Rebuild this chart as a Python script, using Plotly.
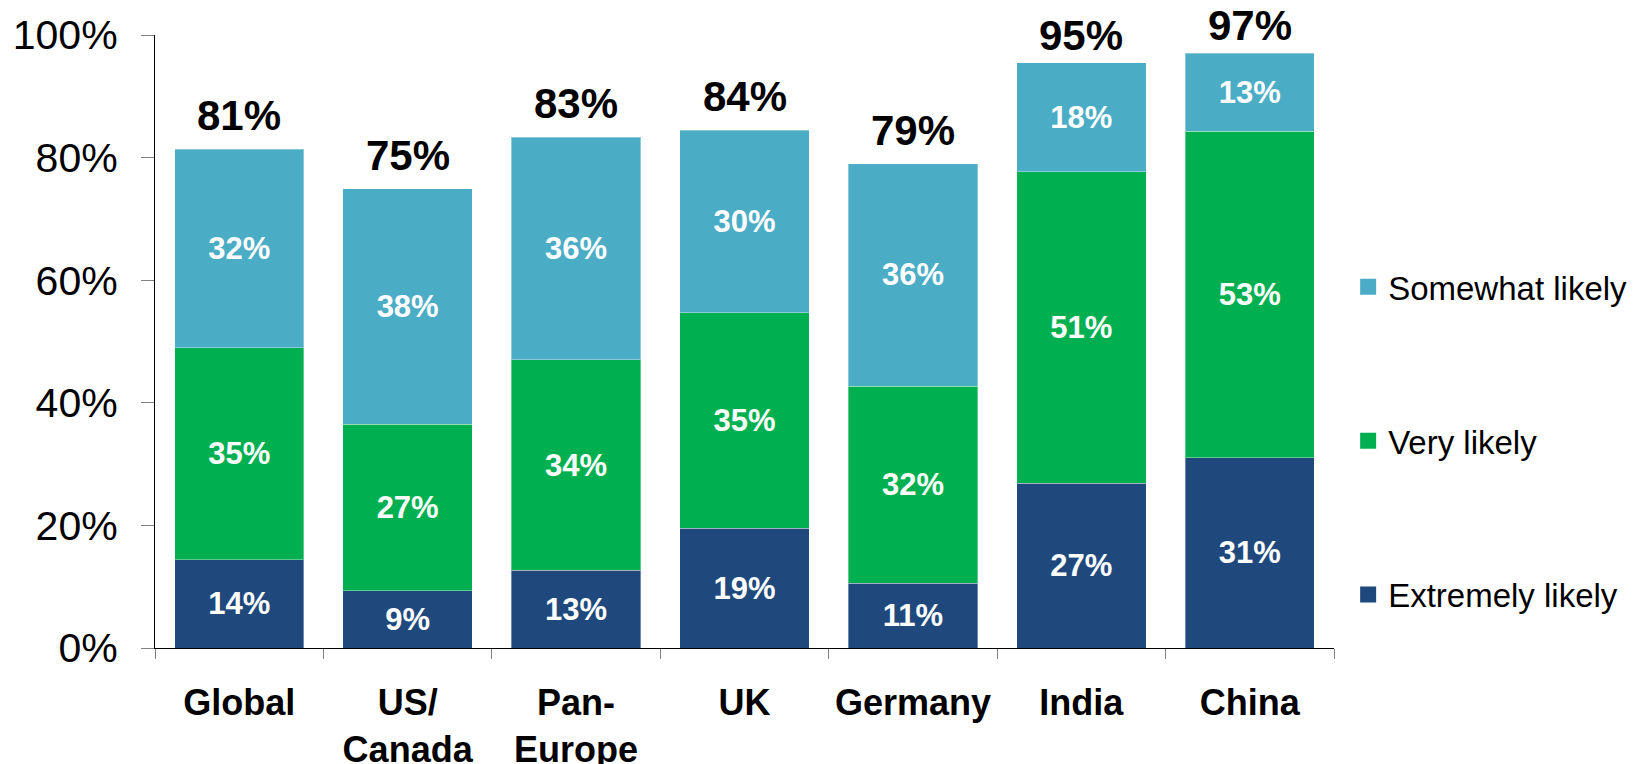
import plotly.graph_objects as go

categories = ["Global", "US/<br>Canada", "Pan-<br>Europe", "UK", "Germany", "India", "China"]
extremely = [14.4, 9.3, 12.7, 19.5, 10.6, 26.9, 31.0]
very = [34.6, 27.2, 34.3, 35.2, 32.1, 50.8, 53.3]
somewhat = [32.4, 38.4, 36.3, 29.8, 36.3, 17.8, 12.7]
extremely_lbl = ["14%", "9%", "13%", "19%", "11%", "27%", "31%"]
very_lbl = ["35%", "27%", "34%", "35%", "32%", "51%", "53%"]
somewhat_lbl = ["32%", "38%", "36%", "30%", "36%", "18%", "13%"]
total_lbl = ["81%", "75%", "83%", "84%", "79%", "95%", "97%"]
y_ticks = [0, 20, 40, 60, 80, 100]
y_tick_lbl = ["0%", "20%", "40%", "60%", "80%", "100%"]

FONT = "Liberation Sans, Arial, sans-serif"
series = [
    ("Extremely likely", extremely, extremely_lbl, "#1F497D", 3),
    ("Very likely", very, very_lbl, "#00B050", 2),
    ("Somewhat likely", somewhat, somewhat_lbl, "#4BACC6", 1),
]

fig = go.Figure()
for name, vals, lbls, col, rank in series:
    fig.add_trace(go.Bar(
        x=categories, y=vals, name=name, text=lbls,
        textposition="inside", insidetextanchor="middle", textangle=0,
        textfont=dict(family=FONT, size=31, color="white", weight="bold"),
        marker=dict(color=col, line=dict(color="rgba(255,255,255,0.35)", width=1)),
        legendgroup=name, showlegend=False, hoverinfo="skip",
    ))
# legend entries with larger square swatches
for name, vals, lbls, col, rank in series:
    fig.add_trace(go.Scatter(
        x=[None], y=[None], mode="markers", name=name,
        marker=dict(symbol="square", size=18, color=col),
        legendgroup=name, legendrank=rank, showlegend=True, hoverinfo="skip",
    ))

totals = [a + b + c for a, b, c in zip(extremely, very, somewhat)]
for cat, tot, lbl in zip(categories, totals, total_lbl):
    # labels near the top of the chart sit a little closer to their bar
    shift = 8 if tot < 90 else 2
    fig.add_annotation(x=cat, y=tot, text=lbl, showarrow=False, yanchor="bottom",
                       yshift=shift, font=dict(family=FONT, size=42, color="black", weight="bold"))

fig.update_layout(
    barmode="stack", bargap=0.232,
    width=1648, height=764,
    margin=dict(l=155, r=314, t=35, b=116, pad=0),
    plot_bgcolor="white", paper_bgcolor="white",
    font=dict(family=FONT, color="black"),
    showlegend=True,
    legend=dict(x=1.012, xanchor="left", y=0.338, yanchor="middle",
                font=dict(family=FONT, size=33, color="black"),
                tracegroupgap=108, traceorder="grouped"),
)
fig.update_xaxes(
    automargin=False,
    showline=True, linecolor="black", linewidth=1.3,
    ticks="outside", tickson="boundaries", ticklen=10, tickcolor="#808080", tickwidth=1.3,
    tickfont=dict(family=FONT, size=36, color="black", weight="bold"),
    ticklabelstandoff=23,
    showgrid=False, zeroline=False, fixedrange=True,
)
fig.update_yaxes(
    automargin=False,
    range=[0, 100], tickmode="array", tickvals=y_ticks, ticktext=y_tick_lbl,
    showline=True, linecolor="black", linewidth=1.3,
    ticks="outside", ticklen=13, tickcolor="#808080", tickwidth=1.3,
    tickfont=dict(family=FONT, size=41, color="black"),
    ticklabelstandoff=15,
    showgrid=False, zeroline=False, fixedrange=True,
)
fig.write_html("out.html", config={"displayModeBar": False},
               post_script="document.body.style.margin='0';document.body.style.overflow='hidden';")
